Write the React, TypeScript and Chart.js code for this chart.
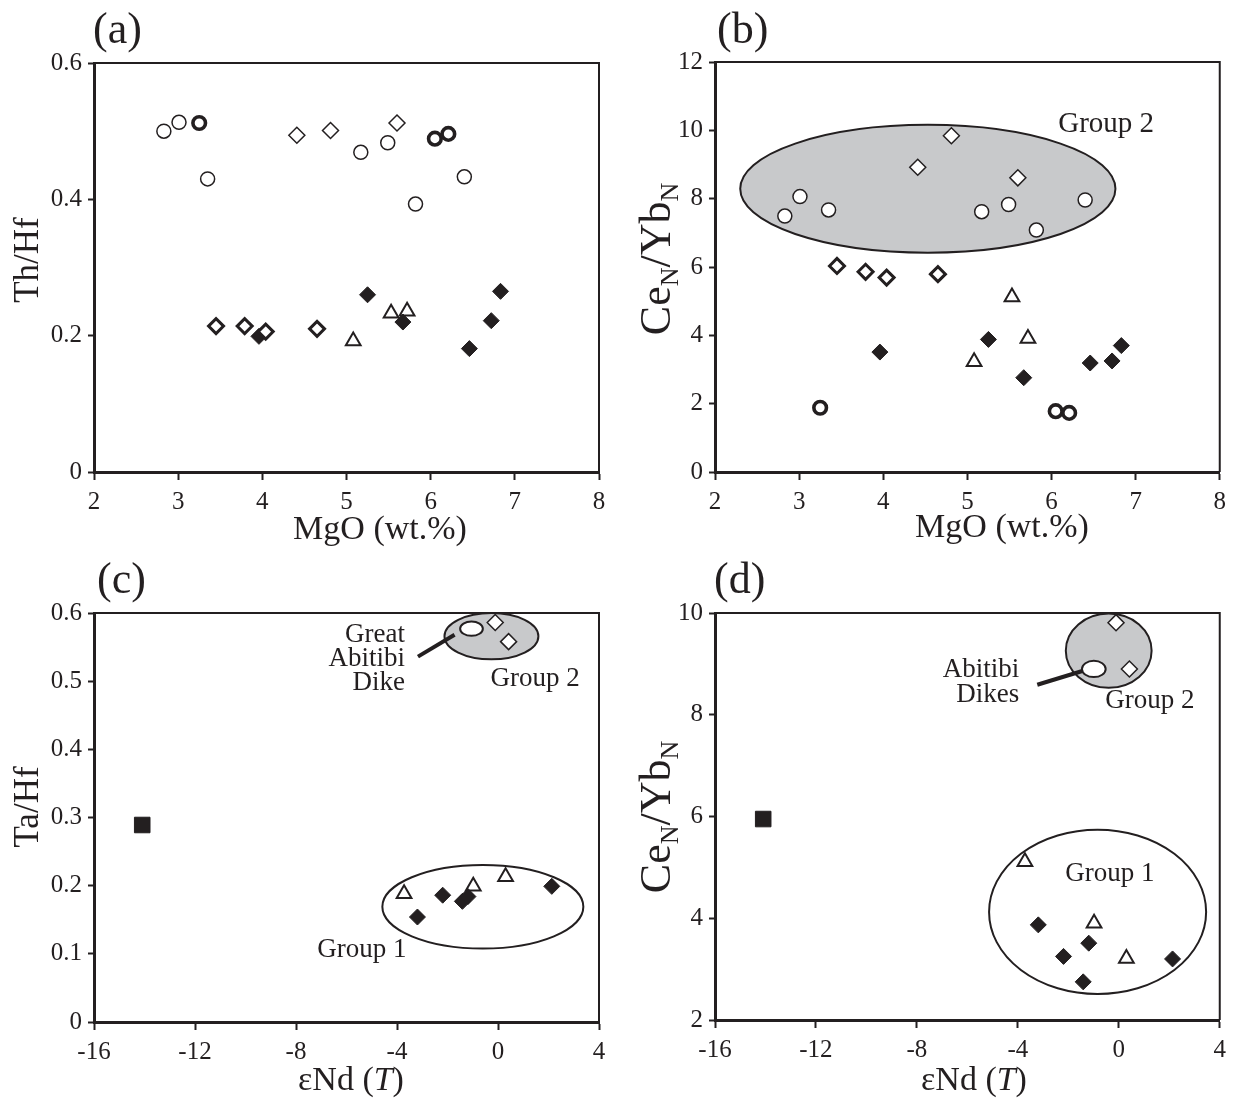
import React, { useEffect, useRef } from "react";
import { Chart, registerables } from "chart.js";

Chart.register(...registerables);

const SERIF = '"Liberation Serif", "Times New Roman", Times, serif';
const INK = "#231f20";
const GREY = "#c8c9cb";

// ---------- tick labels ----------
const mgoTicks = [2, 3, 4, 5, 6, 7, 8];
const thHfTicks = [0, 0.2, 0.4, 0.6];
const ceYbTicksB = [0, 2, 4, 6, 8, 10, 12];
const eNdTicks = [-16, -12, -8, -4, 0, 4];
const taHfTicks = [0, 0.1, 0.2, 0.3, 0.4, 0.5, 0.6];
const ceYbTicksD = [2, 4, 6, 8, 10];

// ---------- panels (a) & (b): MgO (wt.%) ----------
const openCircleMgO = [2.83, 3.01, 3.35, 5.17, 5.49, 5.82, 6.4];
const openCircleThHf = [0.5, 0.513, 0.43, 0.469, 0.483, 0.393, 0.433];
const openCircleCeYb = [7.49, 8.06, 7.67, 7.62, 7.83, 7.08, 7.96];

const boldCircleMgO = [3.25, 6.05, 6.21];
const boldCircleThHf = [0.512, 0.489, 0.496];
const boldCircleCeYb = [1.88, 1.78, 1.73];

const openDiamondMgO = [4.41, 4.81, 5.6];
const openDiamondThHf = [0.494, 0.501, 0.512];
const openDiamondCeYb = [8.92, 9.84, 8.61];

const boldDiamondMgO = [3.45, 3.79, 4.04, 4.65];
const boldDiamondThHf = [0.214, 0.214, 0.206, 0.21];
const boldDiamondCeYb = [6.03, 5.86, 5.69, 5.79];

const filledDiamondMgO = [3.96, 5.25, 5.67, 6.46, 6.72, 6.83];
const filledDiamondThHf = [0.199, 0.26, 0.22, 0.181, 0.222, 0.265];
const filledDiamondCeYb = [3.51, 3.88, 2.76, 3.19, 3.25, 3.7];

const triangleMgO = [5.08, 5.53, 5.72];
const triangleThHf = [0.192, 0.233, 0.236];
const triangleCeYb = [3.23, 5.12, 3.91];

// ---------- panels (c) & (d): εNd(T) ----------
const squareENd = [-14.09];
const squareTaHf = [0.289];
const squareCeYb = [5.95];

const group2DiamondENd = [-0.11, 0.42];
const group2DiamondTaHf = [0.586, 0.558];
const group2DiamondCeYb = [9.81, 8.9];

const group1TriangleENd = [-3.72, -0.98, 0.3];
const group1TriangleTaHf = [0.188, 0.199, 0.213];
const group1TriangleCeYb = [5.11, 3.9, 3.21];

const group1DiamondENd = [-3.19, -2.19, -1.41, -1.19, 2.13];
const group1DiamondTaHf = [0.154, 0.186, 0.177, 0.184, 0.199];
const group1DiamondCeYb = [3.87, 3.25, 2.75, 3.51, 3.2];

// ---------- annotation ellipses [cx, cy, rx, ry] and leader lines [x1, y1, x2, y2] ----------
const group2EllipseB = [4.53, 8.29, 2.23, 1.87];
const group2EllipseC = [-0.26, 0.566, 1.86, 0.034];
const dikeEllipseC = [-1.05, 0.577, 0.45, 0.0105];
const dikeLeaderC = [-3.17, 0.536, -1.72, 0.568];
const group1EllipseC = [-0.6, 0.169, 3.98, 0.0613];
const group2EllipseD = [-0.4, 9.26, 1.7, 0.73];
const dikeEllipseD = [-0.99, 8.9, 0.47, 0.16];
const dikeLeaderD = [-3.23, 8.59, -1.38, 8.87];
const group1EllipseD = [-0.84, 4.125, 4.3, 1.615];

const xy = (xs: number[], ys: number[]) => xs.map((x, i) => ({ x, y: ys[i] }));

const STYLE: Record<string, any> = {
  openCircle: { pointStyle: "circle", pointRadius: 7, pointBorderWidth: 1.5, pointBackgroundColor: "#fff", pointBorderColor: INK },
  boldCircle: { pointStyle: "circle", pointRadius: 6.3, pointBorderWidth: 3.6, pointBackgroundColor: "#fff", pointBorderColor: INK },
  openDiamond: { pointStyle: "rectRot", pointRadius: 8, pointBorderWidth: 1.5, pointBackgroundColor: "#fff", pointBorderColor: INK },
  boldDiamond: { pointStyle: "rectRot", pointRadius: 7.5, pointBorderWidth: 3, pointBackgroundColor: "#fff", pointBorderColor: INK },
  filledDiamond: { pointStyle: "rectRot", pointRadius: 8, pointBorderWidth: 1, pointBackgroundColor: INK, pointBorderColor: INK },
  triangle: { pointStyle: "triangle", pointRadius: 8.5, pointBorderWidth: 2, pointBackgroundColor: "#fff", pointBorderColor: INK },
  square: { pointStyle: "rect", pointRadius: 11, pointBorderWidth: 1, pointBackgroundColor: INK, pointBorderColor: INK },
};

function ds(label: string, xs: number[], ys: number[], style: string) {
  const s = STYLE[style];
  return { label, data: xy(xs, ys), ...s, pointHoverRadius: s.pointRadius, showLine: false };
}

const ell = (e: number[], fill: string | null) => ({ kind: "ellipse", v: e, fill });
const line = (l: number[]) => ({ kind: "line", v: l });

const fmt1 = (v: number) => (v === 0 ? "0" : v.toFixed(1));
const fmt0 = (v: number) => String(v);

const panels: any[] = [
  {
    key: "a",
    pos: { left: 0, top: 0, w: 616, h: 549 },
    area: { l: 94, r: 599, t: 63, b: 472 },
    x: { min: 2, max: 8, ticks: mgoTicks, fmt: fmt0 },
    y: { min: 0, max: 0.6, ticks: thHfTicks, fmt: fmt1 },
    datasets: [
      ds("Open diamonds", openDiamondMgO, openDiamondThHf, "openDiamond"),
      ds("Bold diamonds", boldDiamondMgO, boldDiamondThHf, "boldDiamond"),
      ds("Filled diamonds", filledDiamondMgO, filledDiamondThHf, "filledDiamond"),
      ds("Triangles", triangleMgO, triangleThHf, "triangle"),
      ds("Open circles", openCircleMgO, openCircleThHf, "openCircle"),
      ds("Bold circles", boldCircleMgO, boldCircleThHf, "boldCircle"),
    ],
    decor: {
      label: "(a)", labelAt: [93, 43],
      xTitle: [{ t: "MgO (wt.%)" }], xTitleAt: [380, 539], xSize: 34,
      yTitle: [{ t: "Th/Hf" }], yTitleAt: [38, 260], ySize: 35,
      shapes: [], texts: [],
    },
  },
  {
    key: "b",
    pos: { left: 616, top: 0, w: 617, h: 549 },
    area: { l: 99, r: 605, t: 62, b: 472 },
    x: { min: 2, max: 8, ticks: mgoTicks, fmt: fmt0 },
    y: { min: 0, max: 12, ticks: ceYbTicksB, fmt: fmt0 },
    datasets: [
      ds("Open diamonds", openDiamondMgO, openDiamondCeYb, "openDiamond"),
      ds("Bold diamonds", boldDiamondMgO, boldDiamondCeYb, "boldDiamond"),
      ds("Filled diamonds", filledDiamondMgO, filledDiamondCeYb, "filledDiamond"),
      ds("Triangles", triangleMgO, triangleCeYb, "triangle"),
      ds("Open circles", openCircleMgO, openCircleCeYb, "openCircle"),
      ds("Bold circles", boldCircleMgO, boldCircleCeYb, "boldCircle"),
    ],
    decor: {
      label: "(b)", labelAt: [101, 43],
      xTitle: [{ t: "MgO (wt.%)" }], xTitleAt: [386, 537], xSize: 34,
      yTitle: [{ t: "Ce" }, { t: "N", sub: true }, { t: "/Yb" }, { t: "N", sub: true }], yTitleAt: [54, 259], ySize: 44,
      shapes: [ell(group2EllipseB, GREY)],
      texts: [{ t: "Group 2", at: [6.65, 9.96], align: "center", size: 29 }],
    },
  },
  {
    key: "c",
    pos: { left: 0, top: 549, w: 616, h: 549 },
    area: { l: 94, r: 599, t: 64, b: 473 },
    x: { min: -16, max: 4, ticks: eNdTicks, fmt: fmt0 },
    y: { min: 0, max: 0.6, ticks: taHfTicks, fmt: fmt1 },
    datasets: [
      ds("Group 2", group2DiamondENd, group2DiamondTaHf, "openDiamond"),
      ds("Group 1 diamonds", group1DiamondENd, group1DiamondTaHf, "filledDiamond"),
      ds("Group 1 triangles", group1TriangleENd, group1TriangleTaHf, "triangle"),
      ds("Square", squareENd, squareTaHf, "square"),
    ],
    decor: {
      label: "(c)", labelAt: [97, 44],
      xTitle: [{ t: "\u03b5Nd (" }, { t: "T", it: true }, { t: ")" }], xTitleAt: [351, 541], xSize: 34,
      yTitle: [{ t: "Ta/Hf" }], yTitleAt: [38, 258], ySize: 35,
      shapes: [ell(group2EllipseC, GREY), line(dikeLeaderC), ell(dikeEllipseC, "#fff"), ell(group1EllipseC, null)],
      texts: [
        { t: "Great", at: [-3.68, 0.558], align: "right", size: 27 },
        { t: "Abitibi", at: [-3.68, 0.522], align: "right", size: 27 },
        { t: "Dike", at: [-3.68, 0.487], align: "right", size: 27 },
        { t: "Group 2", at: [1.47, 0.493], align: "center", size: 27 },
        { t: "Group 1", at: [-5.39, 0.095], align: "center", size: 27 },
      ],
    },
  },
  {
    key: "d",
    pos: { left: 616, top: 549, w: 617, h: 549 },
    area: { l: 99, r: 605, t: 64, b: 471 },
    x: { min: -16, max: 4, ticks: eNdTicks, fmt: fmt0 },
    y: { min: 2, max: 10, ticks: ceYbTicksD, fmt: fmt0 },
    datasets: [
      ds("Group 2", group2DiamondENd, group2DiamondCeYb, "openDiamond"),
      ds("Group 1 diamonds", group1DiamondENd, group1DiamondCeYb, "filledDiamond"),
      ds("Group 1 triangles", group1TriangleENd, group1TriangleCeYb, "triangle"),
      ds("Square", squareENd, squareCeYb, "square"),
    ],
    decor: {
      label: "(d)", labelAt: [98, 44],
      xTitle: [{ t: "\u03b5Nd (" }, { t: "T", it: true }, { t: ")" }], xTitleAt: [358, 541], xSize: 34,
      yTitle: [{ t: "Ce" }, { t: "N", sub: true }, { t: "/Yb" }, { t: "N", sub: true }], yTitleAt: [54, 268], ySize: 44,
      shapes: [ell(group2EllipseD, GREY), line(dikeLeaderD), ell(dikeEllipseD, "#fff"), ell(group1EllipseD, null)],
      texts: [
        { t: "Abitibi", at: [-3.94, 8.74], align: "right", size: 27 },
        { t: "Dikes", at: [-3.94, 8.25], align: "right", size: 27 },
        { t: "Group 2", at: [1.23, 8.13], align: "center", size: 27 },
        { t: "Group 1", at: [-0.35, 4.73], align: "center", size: 27 },
      ],
    },
  },
];

function partFont(p: any, size: number) {
  const s = p.sub ? Math.round(size * 0.6) : size;
  return `${p.it ? "italic " : ""}${s}px ${SERIF}`;
}

function drawParts(ctx: CanvasRenderingContext2D, parts: any[], size: number, cx: number) {
  let total = 0;
  for (const p of parts) {
    ctx.font = partFont(p, size);
    total += ctx.measureText(p.t).width;
  }
  let x = cx - total / 2;
  for (const p of parts) {
    ctx.font = partFont(p, size);
    ctx.fillText(p.t, x, p.sub ? size * 0.18 : 0);
    x += ctx.measureText(p.t).width;
  }
}

const decorPlugin = {
  id: "decor",
  beforeDatasetsDraw(chart: any) {
    const o = chart.options.plugins.decor;
    if (!o) return;
    const { ctx } = chart;
    const xs = chart.scales.x;
    const ys = chart.scales.y;
    ctx.save();
    for (const s of o.shapes) {
      if (s.kind === "ellipse") {
        const [ex, ey, rx, ry] = s.v;
        const cx = xs.getPixelForValue(ex);
        const cy = ys.getPixelForValue(ey);
        const prx = Math.abs(xs.getPixelForValue(ex + rx) - cx);
        const pry = Math.abs(ys.getPixelForValue(ey + ry) - cy);
        ctx.beginPath();
        ctx.ellipse(cx, cy, prx, pry, 0, 0, Math.PI * 2);
        if (s.fill) {
          ctx.fillStyle = s.fill;
          ctx.fill();
        }
        ctx.lineWidth = 2;
        ctx.strokeStyle = INK;
        ctx.stroke();
      } else {
        const [x1, y1, x2, y2] = s.v;
        ctx.beginPath();
        ctx.moveTo(xs.getPixelForValue(x1), ys.getPixelForValue(y1));
        ctx.lineTo(xs.getPixelForValue(x2), ys.getPixelForValue(y2));
        ctx.lineWidth = 4;
        ctx.strokeStyle = INK;
        ctx.stroke();
      }
    }
    ctx.fillStyle = INK;
    ctx.textBaseline = "alphabetic";
    for (const t of o.texts) {
      ctx.font = `${t.size}px ${SERIF}`;
      ctx.textAlign = t.align;
      ctx.fillText(t.t, xs.getPixelForValue(t.at[0]), ys.getPixelForValue(t.at[1]));
    }
    ctx.restore();
  },
  afterDraw(chart: any) {
    const o = chart.options.plugins.decor;
    if (!o) return;
    const { ctx, chartArea: a } = chart;
    ctx.save();
    // top and right frame lines
    ctx.strokeStyle = INK;
    ctx.lineWidth = 2;
    ctx.beginPath();
    ctx.moveTo(a.left, a.top);
    ctx.lineTo(a.right, a.top);
    ctx.lineTo(a.right, a.bottom);
    ctx.stroke();
    ctx.fillStyle = INK;
    ctx.textBaseline = "alphabetic";
    ctx.textAlign = "left";
    // panel label
    ctx.font = `44px ${SERIF}`;
    ctx.fillText(o.label, o.labelAt[0], o.labelAt[1]);
    // x title
    ctx.save();
    ctx.translate(0, o.xTitleAt[1]);
    drawParts(ctx, o.xTitle, o.xSize, o.xTitleAt[0]);
    ctx.restore();
    // y title
    ctx.save();
    ctx.translate(o.yTitleAt[0], o.yTitleAt[1]);
    ctx.rotate(-Math.PI / 2);
    drawParts(ctx, o.yTitle, o.ySize, 0);
    ctx.restore();
    ctx.restore();
  },
};

function axis(spec: any, horizontal: boolean, fit: (s: any) => void) {
  return {
    type: "linear",
    min: spec.min,
    max: spec.max,
    afterBuildTicks: (s: any) => {
      s.ticks = spec.ticks.map((v: number) => ({ value: v }));
    },
    afterFit: fit,
    ticks: {
      autoSkip: false,
      maxRotation: 0,
      padding: horizontal ? 7 : 6,
      color: INK,
      font: { family: SERIF, size: 25 },
      callback: (v: any) => spec.fmt(Number(v)),
    },
    grid: {
      display: true,
      drawOnChartArea: false,
      drawTicks: true,
      tickLength: horizontal ? 8 : 6,
      tickWidth: 2,
      tickColor: INK,
      color: INK,
    },
    border: { display: true, color: INK, width: 3 },
  };
}

function Panel({ p }: { p: any }) {
  const ref = useRef<HTMLCanvasElement>(null);
  useEffect(() => {
    const canvas = ref.current;
    if (!canvas) return;
    const chart = new Chart(canvas, {
      type: "scatter",
      data: { datasets: p.datasets },
      options: {
        animation: false,
        responsive: false,
        maintainAspectRatio: false,
        devicePixelRatio: 1,
        events: [],
        layout: { padding: { left: 0, top: p.area.t, right: p.pos.w - p.area.r, bottom: 0 } },
        plugins: {
          legend: { display: false },
          tooltip: { enabled: false },
          decor: p.decor,
        } as any,
        scales: {
          x: axis(p.x, true, (s: any) => {
            s.height = p.pos.h - p.area.b;
          }) as any,
          y: axis(p.y, false, (s: any) => {
            s.width = p.area.l;
          }) as any,
        },
      },
      plugins: [decorPlugin as any],
    });
    return () => chart.destroy();
  }, [p]);
  return (
    <canvas
      ref={ref}
      width={p.pos.w}
      height={p.pos.h}
      style={{ position: "absolute", left: p.pos.left, top: p.pos.top, width: p.pos.w, height: p.pos.h }}
    />
  );
}

export default function App() {
  return (
    <div style={{ position: "absolute", left: 0, top: 0, width: 1233, height: 1098, background: "#fff", overflow: "hidden" }}>
      {panels.map((p) => (
        <Panel key={p.key} p={p} />
      ))}
    </div>
  );
}
